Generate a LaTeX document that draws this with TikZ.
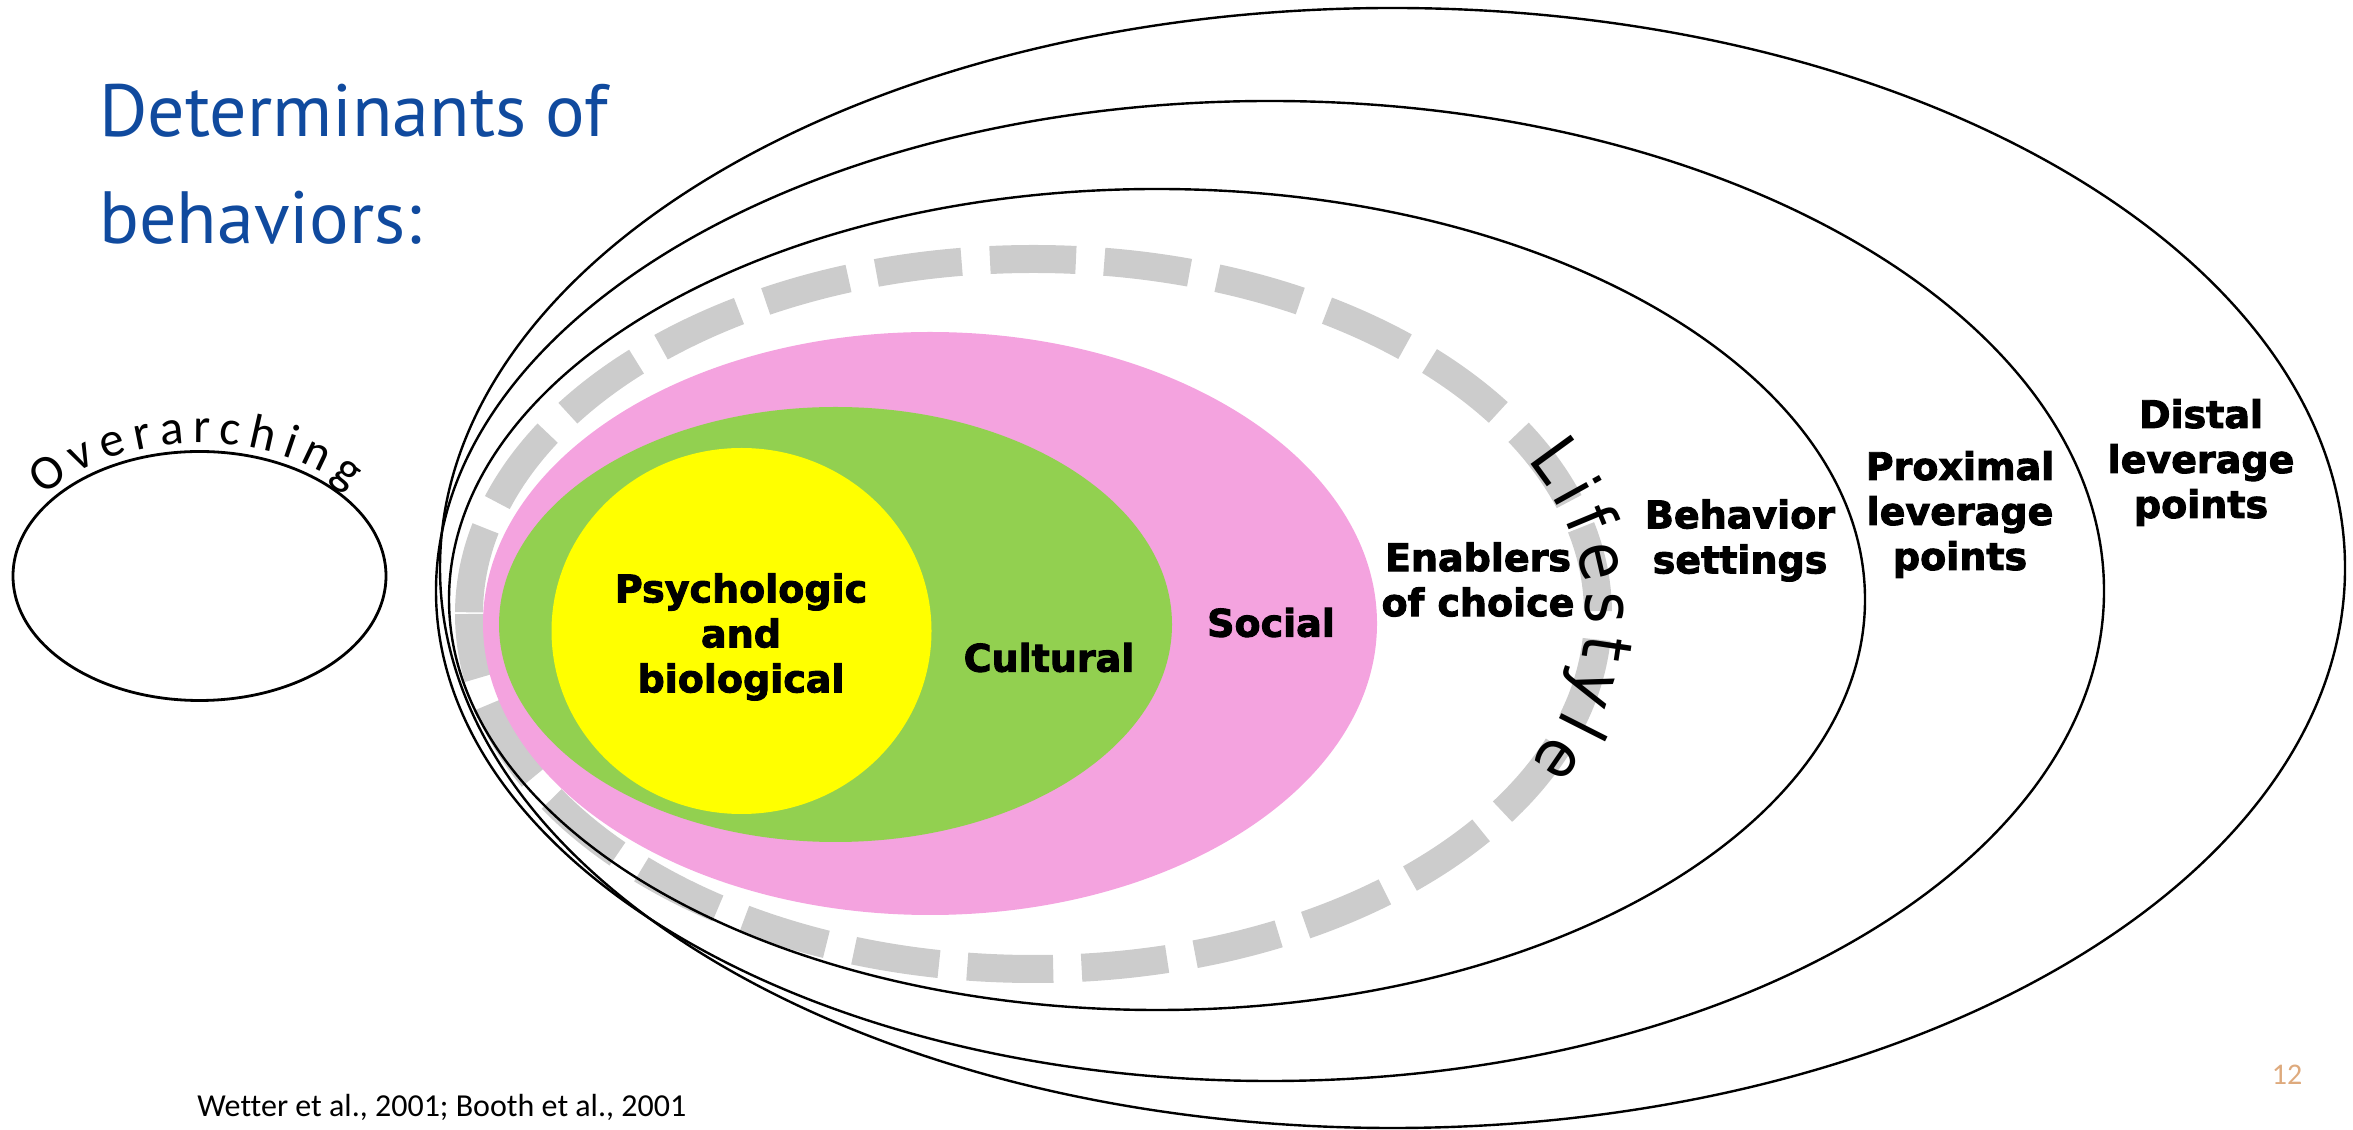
\documentclass[tikz,border=0pt]{standalone}
\usepackage{fontspec}
\usetikzlibrary{decorations.text,calc}
\setmainfont{DejaVu Sans}
\newfontfamily\titlefont{PT Sans}
\newfontfamily\labelfont{DejaVu Sans}[BoldFeatures={FakeBold=2.5}]
\newfontfamily\lifefont{DejaVu Sans}[FakeStretch=0.9]
\newfontfamily\calfont{Carlito}[Ligatures={NoCommon}]
\definecolor{titleblue}{RGB}{16,74,158}
\definecolor{lifegray}{RGB}{204,204,204}
\definecolor{socialpink}{RGB}{244,163,223}
\definecolor{culturalgreen}{RGB}{146,208,80}
\definecolor{psyyellow}{RGB}{255,255,0}
\definecolor{pagetan}{RGB}{222,170,125}
\begin{document}
\begin{tikzpicture}[x=0.5pt,y=0.5pt,
  ring/.style={draw=black, line width=1.2pt},
  labeltxt/.style={font={\labelfont\bfseries\fontsize{19}{22.5}\selectfont}, align=center, inner sep=0pt},
  titletxt/.style={font={\titlefont\fontsize{37}{46}\selectfont}, text=titleblue, inner sep=0pt, anchor=base west}]
\useasboundingbox (0,0) rectangle (2353,1129);
% centres
\coordinate (outc) at (1392.5,561);
\coordinate (secc) at (1270,538);
\coordinate (thic) at (1157,529.5);
\coordinate (dashc) at (1033.5,515);
\coordinate (pinkc) at (930,505.5);
\coordinate (greenc) at (835.5,504.5);
\coordinate (yelc) at (741.5,498);
\coordinate (overc) at (199.5,553);
% lifestyle dashed ring
\draw[lifegray, line width=14pt, dash pattern=on 43pt off 14.2pt, dash phase=10.5pt]
  ($(dashc)+(180:564.5 and 355)$) arc[start angle=180, end angle=540, x radius=564.5, y radius=355];
% outer rings
\draw[ring] (outc) ellipse [x radius=952.5, y radius=560];
\draw[ring] (secc) ellipse [x radius=834, y radius=490];
\draw[ring] (thic) ellipse [x radius=708, y radius=410.5];
% filled core
\fill[socialpink] (pinkc) ellipse [x radius=447, y radius=291.5];
\fill[culturalgreen] (greenc) ellipse [x radius=336.5, y radius=217.5];
\fill[psyyellow] (yelc) ellipse [x radius=190, y radius=183];
% overarching ellipse
\draw[line width=1.4pt] (overc) ellipse [x radius=186.5, y radius=124.5];
% curved texts
\path[decorate, decoration={text along path, text={|\calfont\fontsize{24.5}{29}\selectfont|Overarching}, text align={fit to path}}]
  ($(overc)+(143:195 and 133)$) arc[start angle=143, end angle=40, x radius=195, y radius=133];
\path[decorate, decoration={text along path, text={|\lifefont\fontsize{34}{40}\selectfont|Lifestyle}, text align={fit to path}, raise=-6pt}]
  ($(dashc)+(27:564.5 and 355)$) arc[start angle=27, end angle=-26, x radius=564.5, y radius=355];
% title
\node[titletxt] (title1) at (99,992) {Determinants of};
\node[titletxt] (title2) at (99,885) {behaviors:};
% labels
\node[labeltxt] (psych) at (741,492) {Psychologic\\and\\biological};
\node[labeltxt] (cultural) at (1049,471.5) {Cultural};
\node[labeltxt] (social) at (1271,506.5) {Social};
\node[labeltxt] (enablers) at (1478,549.5) {Enablers\\of choice};
\node[labeltxt] (behavior) at (1740,588.5) {Behavior\\settings};
\node[labeltxt] (proximal) at (1960,614.5) {Proximal\\leverage\\points};
\node[labeltxt] (distal) at (2201,666.5) {Distal\\leverage\\points};
% footer
\node[anchor=base west, inner sep=0pt, font={\calfont\fontsize{16}{19}\selectfont}] (cite) at (197,13) {Wetter et al., 2001; Booth et al., 2001};
\node[anchor=base, inner sep=0pt, font={\calfont\fontsize{15}{18}\selectfont}, text=pagetan] (page) at (2287,45) {12};
\end{tikzpicture}
\end{document}
